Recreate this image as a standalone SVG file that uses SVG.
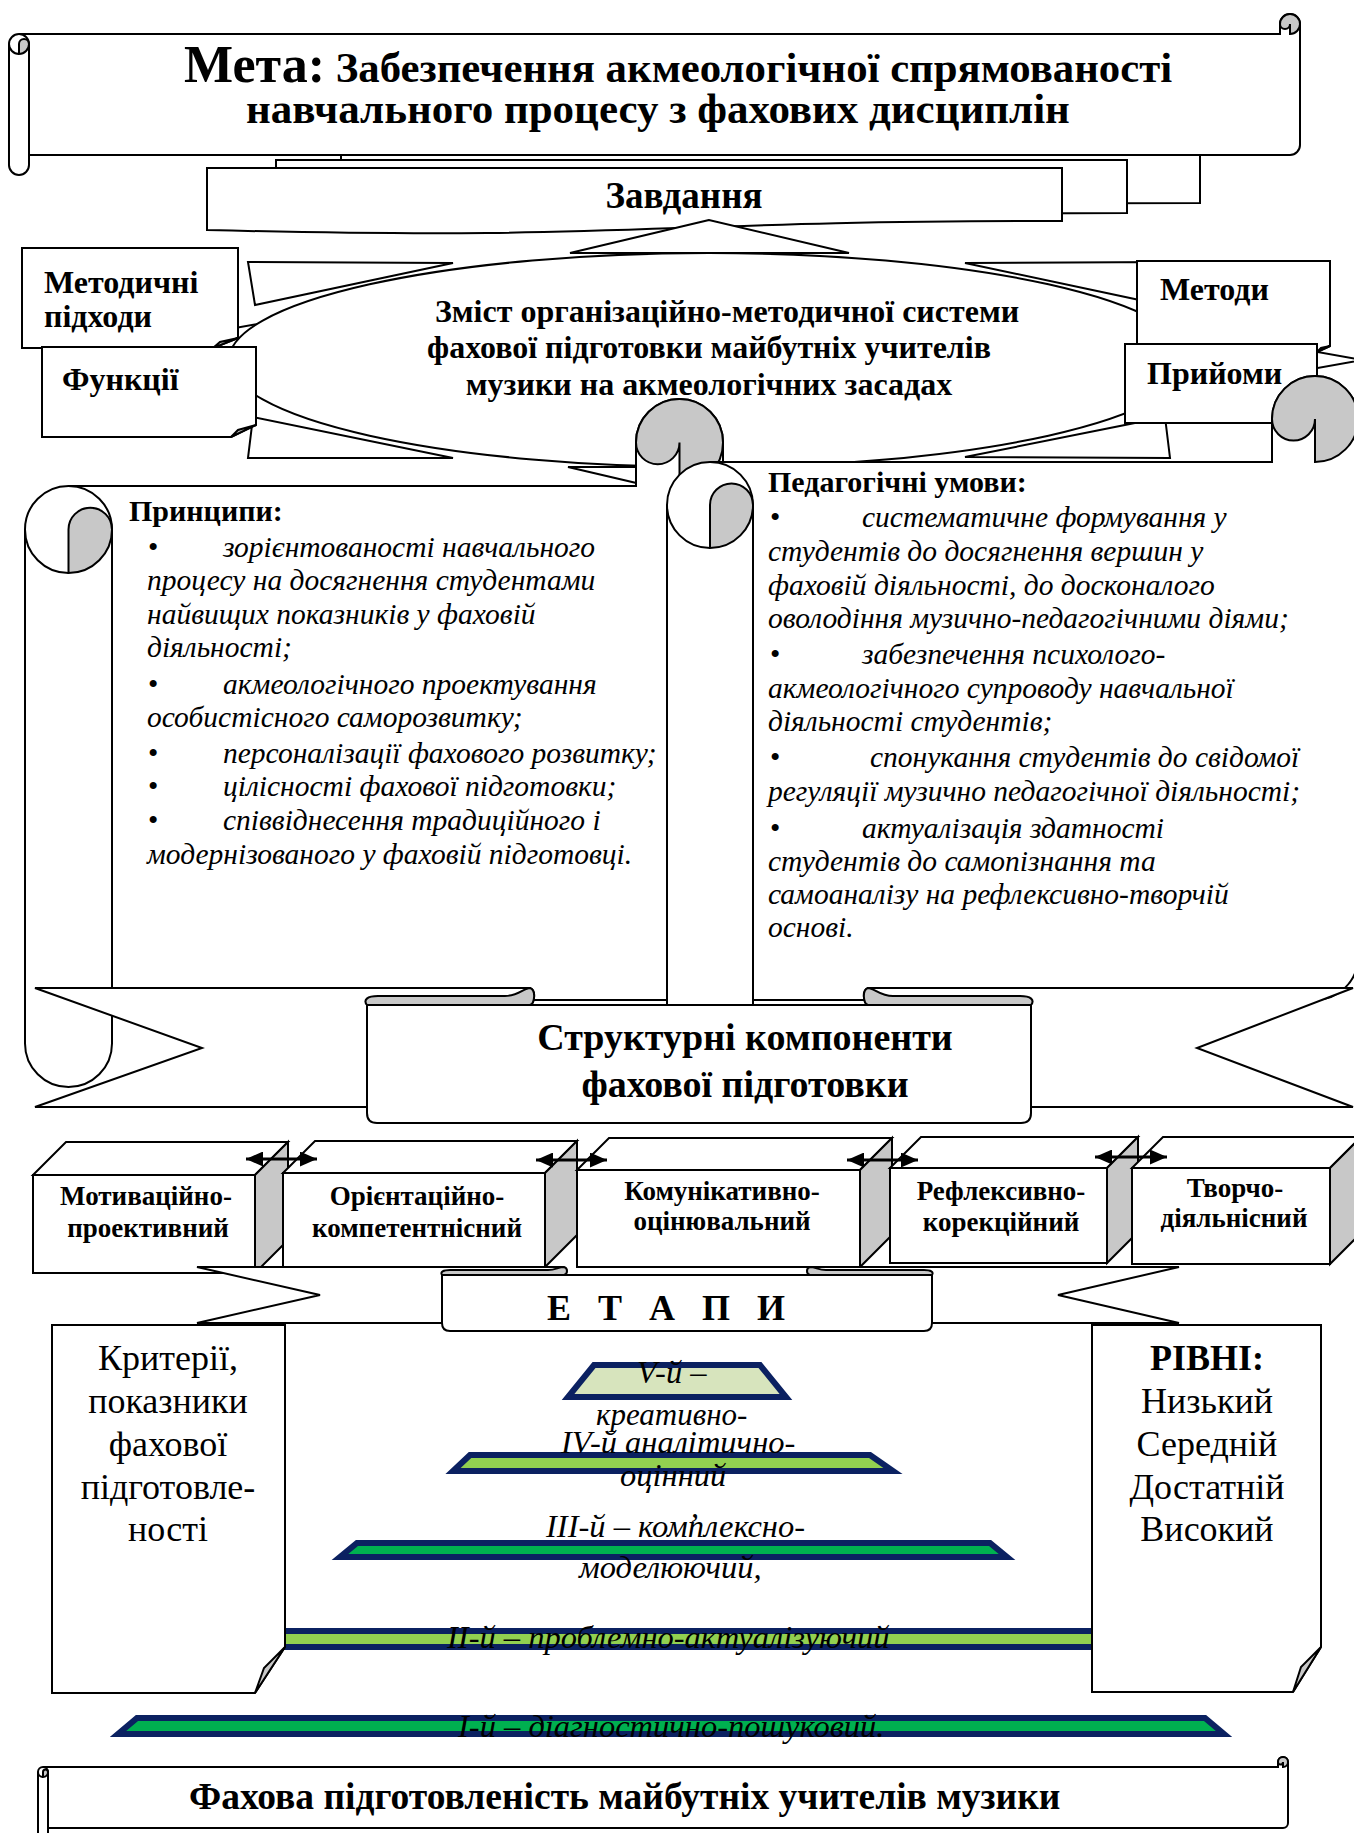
<svg xmlns="http://www.w3.org/2000/svg" width="1354" height="1833" viewBox="0 0 1354 1833">
<style>
.o{fill:#fff;stroke:#000;stroke-width:2}
.n{fill:none;stroke:#000;stroke-width:2}
.g{fill:#c8c8c8;stroke:#000;stroke-width:2}
.t{font-family:'Liberation Serif','Times New Roman',serif;fill:#000}
.b{font-weight:bold}
.i{font-style:italic}
.nv{stroke:#0b2161;stroke-width:6}
.ar{stroke:#000;stroke-width:3}
</style>
<defs>
<marker id="ah" viewBox="0 0 17 15" refX="17" refY="7.5" markerWidth="17" markerHeight="15" markerUnits="userSpaceOnUse" orient="auto-start-reverse"><path d="M0,0 L17,7.5 L0,15 Z" fill="#000"/></marker>
</defs>
<rect width="1354" height="1833" fill="#fff"/>

<g id="zavdannia">
<path class="o" d="M341,155 H1200 V203 C770,203 770,222 341,211 Z"/>
<path class="o" d="M276,160 H1127 V213 C701,213 701,233 276,222 Z"/>
<path class="o" d="M207,168 H1062 V221 C634,221 634,241 207,230 Z"/>
<text class="t b" x="684" y="208" font-size="37" text-anchor="middle">Завдання</text>
</g>

<g id="meta">
<path class="o" d="M9,44 A10,10 0 0 1 19,34 H1280 V24 A10,10 0 0 1 1300,24 V145 A10,10 0 0 1 1290,155 H29 V165 A10,10 0 0 1 9,165 Z"/>
<path class="g" d="M19,54 V44 A5,5 0 0 1 29,44 A10,10 0 0 1 19,54 Z"/>
<path class="n" d="M19,34 A10,10 0 0 1 29,44 M9,44 A10,10 0 0 0 19,54 M29,44 V155"/>
<path class="g" d="M1280,24 A10,10 0 0 1 1300,24 A10,10 0 0 1 1290,34 V24 A5,5 0 0 1 1280,24 Z"/>
<text class="t b" x="184" y="82"><tspan font-size="52">Мета:</tspan><tspan font-size="42.8"> Забезпечення акмеологічної спрямованості</tspan></text>
<text class="t b" x="658" y="123" font-size="43" text-anchor="middle">навчального процесу з фахових дисциплін</text>
</g>

<g id="zmist">
<polygon class="o" points="709,220 570,253 849,253"/>
<polygon class="o" points="248,262 453,263 255,305"/>
<polygon class="o" points="1170,262 965,263 1163,305"/>
<polygon class="o" points="248,458 453,458 253,417"/>
<polygon class="o" points="1170,458 965,457 1165,417"/>
<polygon class="o" points="709,500 568,467 850,467"/>
<polygon class="o" points="56,360 258,324 258,396"/>
<polygon class="o" points="1362,360 1160,324 1160,396"/>
<ellipse class="o" cx="709" cy="360" rx="480" ry="107"/>
<text class="t b" font-size="32" text-anchor="middle"><tspan x="727" y="322">Зміст організаційно-методичної системи</tspan><tspan x="709" y="358">фахової підготовки майбутніх учителів</tspan><tspan x="709" y="395">музики на акмеологічних засадах</tspan></text>
</g>

<g id="metodychni">
<path class="o" d="M22,248 H238 V338 L213,348 H22 Z"/>
<path class="g" d="M213,348 L238,338 L220,342 Z"/>
<text class="t b" font-size="32"><tspan x="44" y="293">Методичні</tspan><tspan x="44" y="327">підходи</tspan></text>
</g>
<g id="funktsii">
<path class="o" d="M42,347 H256 V425 L231,437 H42 Z"/>
<path class="g" d="M231,437 L256,425 L238,430 Z"/>
<text class="t b" x="62" y="390" font-size="32">Функції</text>
</g>
<g id="metody">
<path class="o" d="M1137,261 H1330 V346 L1317,352 H1137 Z"/>
<path class="g" d="M1317,352 L1330,346 L1321,348 Z"/>
<text class="t b" x="1160" y="300" font-size="32">Методи</text>
</g>
<g id="pryiomy">
<path class="o" d="M1125,344 H1317 V414 L1295,423 H1125 Z"/>
<path class="g" d="M1295,423 L1317,414 L1301,418 Z"/>
<text class="t b" x="1147" y="384" font-size="32">Прийоми</text>
</g>

<g id="pryntsypy">
<path class="o" d="M25,529.5 A43.5,43.5 0 0 1 68.5,486 H636 V442.5 A43.5,43.5 0 0 1 723,442.5 V956.5 A43.5,43.5 0 0 1 679.5,1000 H112 V1043.5 A43.5,43.5 0 0 1 25,1043.5 Z"/>
<path class="g" d="M68.5,573 V529.5 A21.75,21.75 0 0 1 112,529.5 A43.5,43.5 0 0 1 68.5,573 Z"/>
<path class="n" d="M68.5,486 A43.5,43.5 0 0 1 112,529.5 M25,529.5 A43.5,43.5 0 0 0 68.5,573 M112,529.5 V1000"/>
<path class="g" d="M636,442.5 A43.5,43.5 0 0 1 723,442.5 A43.5,43.5 0 0 1 679.5,486 V442.5 A21.75,21.75 0 0 1 636,442.5 Z"/>
<text class="t b" x="129" y="521" font-size="30">Принципи:</text>
<g class="t" font-size="29.5">
<text x="148" y="557">•</text><text x="148" y="694">•</text><text x="148" y="763">•</text><text x="148" y="796">•</text><text x="148" y="830">•</text>
</g>
<g class="t i" font-size="29.5">
<text x="223" y="557">зорієнтованості навчального</text>
<text x="147" y="590">процесу на досягнення студентами</text>
<text x="147" y="624">найвищих показників у фаховій</text>
<text x="147" y="657">діяльності;</text>
<text x="223" y="694">акмеологічного проектування</text>
<text x="147" y="727">особистісного саморозвитку;</text>
<text x="223" y="763">персоналізації фахового розвитку;</text>
<text x="223" y="796">цілісності фахової підготовки;</text>
<text x="223" y="830">співвіднесення традиційного і</text>
<text x="147" y="864">модернізованого у фаховій підготовці.</text>
</g>
</g>

<g id="umovy">
<path class="o" d="M667,505 A43,43 0 0 1 710,462 H1272 V419 A43,43 0 0 1 1358,419 V957 A43,43 0 0 1 1315,1000 H753 V1043 A43,43 0 0 1 667,1043 Z"/>
<path class="g" d="M710,548 V505 A21.5,21.5 0 0 1 753,505 A43,43 0 0 1 710,548 Z"/>
<path class="n" d="M710,462 A43,43 0 0 1 753,505 M667,505 A43,43 0 0 0 710,548 M753,505 V1000"/>
<path class="g" d="M1272,419 A43,43 0 0 1 1358,419 A43,43 0 0 1 1315,462 V419 A21.5,21.5 0 0 1 1272,419 Z"/>
<text class="t b" x="768" y="492" font-size="30">Педагогічні умови:</text>
<g class="t" font-size="29.5">
<text x="770" y="527">•</text><text x="770" y="664">•</text><text x="770" y="767">•</text><text x="770" y="838">•</text>
</g>
<g class="t i" font-size="29.5">
<text x="862" y="527">систематичне формування у</text>
<text x="768" y="561">студентів до досягнення вершин у</text>
<text x="768" y="595">фаховій діяльності, до досконалого</text>
<text x="768" y="628">оволодіння музично-педагогічними діями;</text>
<text x="862" y="664">забезпечення психолого-</text>
<text x="768" y="698">акмеологічного супроводу навчальної</text>
<text x="768" y="731">діяльності студентів;</text>
<text x="870" y="767">спонукання студентів до свідомої</text>
<text x="768" y="801">регуляції музично педагогічної діяльності;</text>
<text x="862" y="838">актуалізація здатності</text>
<text x="768" y="871">студентів до самопізнання та</text>
<text x="768" y="904">самоаналізу на рефлексивно-творчій</text>
<text x="768" y="937">основі.</text>
</g>
</g>

<g id="strukturni">
<path class="o" d="M35,988 H530 C536,990 535,1003 530,1005 H868 C863,1003 862,990 868,988 H1353 L1197,1048 L1353,1107 H35 L202,1048 Z"/>
<path class="o" d="M367,1005 H1031 V1113 Q1031,1123 1021,1123 H377 Q367,1123 367,1113 Z"/>
<path class="g" d="M367,1005 C363,1000 367,996 378,996 H505 C518,996 524,988 530,988 C536,990 535,1003 530,1005 Z"/>
<path class="g" d="M1031,1005 C1035,1000 1031,996 1020,996 H893 C880,996 874,988 868,988 C862,990 863,1003 868,1005 Z"/>
<text class="t b" font-size="38" text-anchor="middle"><tspan x="745" y="1050">Структурні компоненти</tspan><tspan x="745" y="1097">фахової підготовки</tspan></text>
</g>

<g id="cube1">
<rect class="o" x="33" y="1175" width="222" height="98"/>
<path class="o" d="M33,1175 L66,1142 H288 L255,1175 Z"/>
<path class="g" d="M255,1175 L288,1142 V1240 L255,1273 Z"/>
<text class="t b" font-size="27" text-anchor="middle"><tspan x="146" y="1205">Мотиваційно-</tspan><tspan x="148" y="1237">проективний</tspan></text>
</g>
<g id="cube2">
<rect class="o" x="283" y="1173" width="262" height="94"/>
<path class="o" d="M283,1173 L315,1141 H577 L545,1173 Z"/>
<path class="g" d="M545,1173 L577,1141 V1235 L545,1267 Z"/>
<text class="t b" font-size="27" text-anchor="middle"><tspan x="417" y="1205">Орієнтаційно-</tspan><tspan x="417" y="1237">компетентнісний</tspan></text>
</g>
<g id="cube3">
<rect class="o" x="577" y="1170" width="283" height="97"/>
<path class="o" d="M577,1170 L609,1138 H892 L860,1170 Z"/>
<path class="g" d="M860,1170 L892,1138 V1235 L860,1267 Z"/>
<text class="t b" font-size="27" text-anchor="middle"><tspan x="722" y="1200">Комунікативно-</tspan><tspan x="722" y="1230">оцінювальний</tspan></text>
</g>
<g id="cube4">
<rect class="o" x="890" y="1168" width="217" height="95"/>
<path class="o" d="M890,1168 L921,1137 H1138 L1107,1168 Z"/>
<path class="g" d="M1107,1168 L1138,1137 V1232 L1107,1263 Z"/>
<text class="t b" font-size="27" text-anchor="middle"><tspan x="1001" y="1200">Рефлексивно-</tspan><tspan x="1001" y="1231">корекційний</tspan></text>
</g>
<g id="cube5">
<rect class="o" x="1132" y="1168" width="198" height="96"/>
<path class="o" d="M1132,1168 L1163,1137 H1361 L1330,1168 Z"/>
<path class="g" d="M1330,1168 L1361,1137 V1233 L1330,1264 Z"/>
<text class="t b" font-size="27" text-anchor="middle"><tspan x="1235" y="1197">Творчо-</tspan><tspan x="1234" y="1227">діяльнісний</tspan></text>
</g>

<g id="connectors">
<line class="ar" x1="246" y1="1159" x2="317" y2="1159" marker-start="url(#ah)" marker-end="url(#ah)"/>
<line class="ar" x1="536" y1="1160" x2="607" y2="1160" marker-start="url(#ah)" marker-end="url(#ah)"/>
<line class="ar" x1="847" y1="1160" x2="918" y2="1160" marker-start="url(#ah)" marker-end="url(#ah)"/>
<line class="ar" x1="1095" y1="1157" x2="1167" y2="1157" marker-start="url(#ah)" marker-end="url(#ah)"/>
</g>

<g id="etapy">
<path class="o" d="M197,1267 H562 C568,1268 568,1274 562,1275 H812 C806,1274 806,1268 812,1267 H1179 L1058,1295 L1179,1323 H197 L320,1295 Z"/>
<path class="o" d="M442,1275 H932 V1323 Q932,1331 924,1331 H450 Q442,1331 442,1323 Z"/>
<path class="g" d="M442,1275 C440,1272 443,1270 450,1270 H548 C556,1270 558,1267 564,1267 C568,1268 568,1274 564,1275 Z"/>
<path class="g" d="M932,1275 C934,1272 931,1270 924,1270 H826 C818,1270 816,1267 810,1267 C806,1268 806,1274 810,1275 Z"/>
<text class="t b" x="547" y="1320" font-size="36" letter-spacing="9">Е Т А П И</text>
</g>

<g id="etap2">
<polygon class="nv" points="240,1631 1140,1631 1150,1647 230,1647" fill="#92d050"/>
</g>

<g id="kryterii">
<path class="o" d="M52,1325 H285 V1647 L255,1693 H52 Z"/>
<path class="g" d="M255,1693 L285,1647 L264,1668 Z"/>
<text class="t" font-size="36" text-anchor="middle"><tspan x="168" y="1370">Критерії,</tspan><tspan x="168" y="1413">показники</tspan><tspan x="168" y="1456">фахової</tspan><tspan x="168" y="1499">підготовле-</tspan><tspan x="168" y="1541">ності</tspan></text>
</g>
<g id="rivni">
<path class="o" d="M1092,1325 H1321 V1647 L1293,1692 H1092 Z"/>
<path class="g" d="M1293,1692 L1321,1647 L1301,1667 Z"/>
<text class="t" font-size="36" text-anchor="middle"><tspan x="1207" y="1370" font-weight="bold">РІВНІ:</tspan><tspan x="1207" y="1413">Низький</tspan><tspan x="1207" y="1456">Середній</tspan><tspan x="1207" y="1499">Достатній</tspan><tspan x="1207" y="1541">Високий</tspan></text>
</g>

<g id="etapy-pyramid">
<polygon class="nv" points="594,1365 760,1365 786,1397 568,1397" fill="#d7e4bd"/>
<polygon class="nv" points="470,1455 870,1455 893,1471 453,1471" fill="#92d050"/>
<polygon class="nv" points="357,1543 990,1543 1007,1557 340,1557" fill="#00b050"/>
<polygon class="nv" points="137,1718 1205,1718 1224,1734 118,1734" fill="#00b050"/>
<g class="t i" font-size="32.5">
<text x="637" y="1383">V-й –</text>
<text x="596" y="1425" font-size="31">креативно-</text>
<text x="561" y="1453">IV-й аналітично-</text>
<text x="620" y="1486">оцінний</text>
<text x="691" y="1517">,</text>
<text x="546" y="1537">III-й – комплексно-</text>
<text x="579" y="1578">моделюючий,</text>
<text x="447" y="1648">II-й – проблемно-актуалізуючий</text>
<text x="458" y="1737">I-й – діагностично-пошуковий.</text>
</g>
</g>

<g id="pidgotovlenist">
<path class="o" d="M38,1772 A5,5 0 0 1 43,1767 H1278 V1762 A5,5 0 0 1 1288,1762 V1823 A5,5 0 0 1 1283,1828 H48 V1833 A5,5 0 0 1 38,1833 Z"/>
<path class="g" d="M43,1777 V1772 A2.5,2.5 0 0 1 48,1772 A5,5 0 0 1 43,1777 Z"/>
<path class="n" d="M43,1767 A5,5 0 0 1 48,1772 M38,1772 A5,5 0 0 0 43,1777 M48,1772 V1828"/>
<path class="g" d="M1278,1762 A5,5 0 0 1 1288,1762 A5,5 0 0 1 1283,1767 V1762 A2.5,2.5 0 0 1 1278,1762 Z"/>
<text class="t b" x="189" y="1809" font-size="37.5">Фахова підготовленість майбутніх учителів музики</text>
</g>
</svg>
